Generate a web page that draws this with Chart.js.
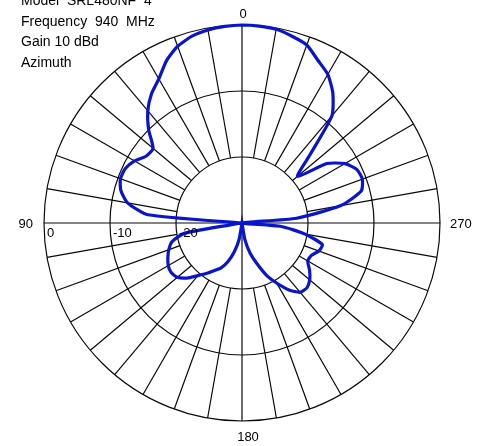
<!DOCTYPE html>
<html>
<head>
<meta charset="utf-8">
<script src="https://cdn.jsdelivr.net/npm/chart.js@4.4.1/dist/chart.umd.min.js"></script>
<style>
  html, body { margin: 0; padding: 0; background: #fff; }
  canvas { display: block; }
</style>
</head>
<body>
<canvas id="myChart" width="482" height="446"></canvas>
<script>
// azimuth in degrees, counter-clockwise from top (90 is on the left)
const azimuth = [0, 5, 10, 15, 20, 25, 30, 35, 40, 45, 50, 55, 60, 65, 70, 75, 80, 85,
  90, 95, 100, 105, 110, 115, 120, 125, 130, 135, 140, 145, 150, 155, 160, 165, 170, 175,
  180, 185, 190, 195, 200, 205, 210, 215, 220, 225, 230, 235, 240, 245, 250, 255, 260, 265,
  270, 275, 280, 285, 290, 295, 300, 305, 310, 315, 320, 325, 330, 335, 340, 345, 350, 355];
// relative level in dB
const gain = [0, -0.1, -0.3, -0.7, -1.5, -2.9, -4.8, -6.1, -7.8, -10.0, -12.4, -12.3, -11.2, -10.5, -10.4, -11.0, -12.4, -15.7,
  -30, -30, -21.2, -19.0, -18.2, -17.6, -17.1, -16.9, -17.2, -18.2, -19.6, -20.7, -21.7, -22.5, -23.8, -25.5, -27.5, -30,
  -30, -30, -27.4, -25.3, -23.5, -21.3, -19.5, -17.6, -16.3, -16.1, -16.6, -17.5, -18.5, -18.4, -17.6, -17.4, -20.3, -24.0,
  -30, -21.7, -14.8, -11.3, -10.6, -10.8, -12.0, -14.3, -19.0, -15.5, -8.8, -6.0, -4.0, -2.8, -1.3, -0.7, -0.2, -0.05];
const ringLabels = [0, -10, -20];
const axisLabels = ['0', '90', '180', '270'];
const header = ['Model  SRL480NF  4', 'Frequency  940  MHz', 'Gain 10 dBd', 'Azimuth'];

const FONT = '"Liberation Sans", Arial, sans-serif';
const N = azimuth.length;
// radar goes clockwise, this plot goes the other way
const labels = [], values = [];
for (let i = 0; i < N; i++) {
  const k = (N - i) % N;
  labels.push(azimuth[k]);
  values.push(gain[k]);
}
const indexOf = (az) => labels.indexOf(az);

const polarGrid = {
  id: 'polarGrid',
  beforeDatasetsDraw(chart) {
    const s = chart.scales.r;
    const ctx = chart.ctx;
    ctx.save();
    ctx.strokeStyle = '#0a0a0a';
    ctx.lineWidth = 1.2;
    for (let i = 0; i < N; i += 2) {
      const inner = (i % 18 === 0) ? -30 : -20;
      const a = s.getPointPositionForValue(i, inner);
      const b = s.getPointPositionForValue(i, 0);
      ctx.beginPath();
      ctx.moveTo(a.x, a.y);
      ctx.lineTo(b.x, b.y);
      ctx.stroke();
    }
    ctx.restore();
  },
  afterDraw(chart) {
    const s = chart.scales.r;
    const ctx = chart.ctx;
    ctx.save();
    ctx.fillStyle = '#000';
    ctx.font = '14px ' + FONT;
    ctx.textAlign = 'left';
    ctx.textBaseline = 'alphabetic';
    header.forEach((t, i) => ctx.fillText(t, 21, 5 + i * 20.7));

    ctx.font = '13px ' + FONT;
    ctx.textBaseline = 'middle';
    ringLabels.forEach((v) => {
      const d = s.getDistanceFromCenterForValue(v);
      ctx.fillText(String(v), s.xCenter - d + 3, s.yCenter + 10);
    });

    const top = s.getPointPositionForValue(indexOf(0), 0);
    const left = s.getPointPositionForValue(indexOf(90), 0);
    const bottom = s.getPointPositionForValue(indexOf(180), 0);
    const right = s.getPointPositionForValue(indexOf(270), 0);
    ctx.textAlign = 'center';
    ctx.fillText(axisLabels[0], top.x + 1, top.y - 11);
    ctx.fillText(axisLabels[2], bottom.x + 6, bottom.y + 16);
    ctx.textAlign = 'right';
    ctx.fillText(axisLabels[1], left.x - 11, left.y + 1);
    ctx.textAlign = 'left';
    ctx.fillText(axisLabels[3], right.x + 10, right.y + 1);
    ctx.restore();
  }
};

const config = {
  type: 'radar',
  data: {
    labels: labels,
    datasets: [{
      label: 'Azimuth',
      data: values,
      borderColor: 'rgb(8, 20, 205)',
      borderWidth: 3.2,
      pointRadius: 0,
      fill: false,
      tension: 0.2,
    }],
  },
  options: {
    responsive: false,
    animation: false,
    layout: { padding: { left: 44, right: 42, top: 25, bottom: 25 } },
    plugins: { legend: { display: false }, tooltip: { enabled: false } },
    scales: {
      r: {
        min: -30,
        max: 0,
        ticks: { display: false, stepSize: 10 },
        pointLabels: { display: false },
        angleLines: { display: false },
        grid: { circular: true, color: '#0a0a0a', lineWidth: 1.2 },
      },
    },
  },
  plugins: [polarGrid],
};

const myChart = new Chart(document.getElementById('myChart'), config);
</script>
</body>
</html>
